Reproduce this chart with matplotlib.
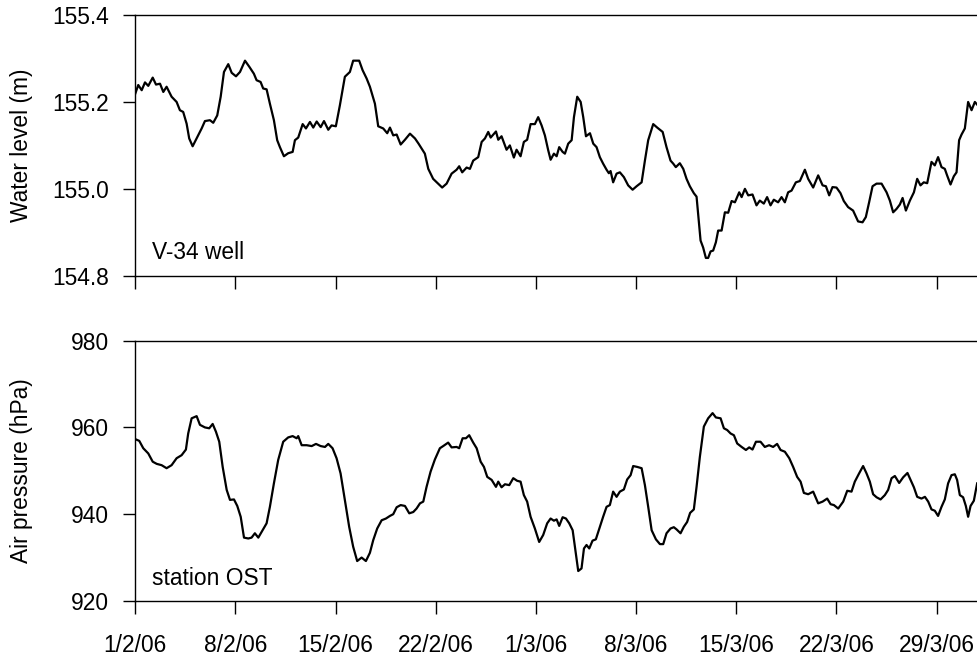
import matplotlib
matplotlib.use("Agg")
import matplotlib.pyplot as plt
import datetime as dt

plt.rcParams['font.family'] = ['Liberation Sans', 'DejaVu Sans']

# days since 1/2/06
well_day = [0.0, 0.21, 0.45, 0.68, 0.91, 1.22, 1.45, 1.73, 1.96, 2.19, 2.54, 2.89, 3.12, 3.35, 3.59, 3.77,
            4.01, 4.29, 4.64, 4.87, 5.22, 5.45, 5.73, 5.97, 6.20, 6.50, 6.74, 7.04, 7.32, 7.67, 7.97, 8.29,
            8.48, 8.76, 8.94, 9.18, 9.41, 9.69, 9.92, 10.11, 10.39, 10.69, 11.00, 11.16, 11.39, 11.70, 11.93,
            12.21, 12.44, 12.68, 12.96, 13.19, 13.49, 13.72, 14.02, 14.30, 14.65, 15.00, 15.23, 15.65, 15.89,
            16.17, 16.40, 16.75, 16.98, 17.33, 17.61, 17.80, 18.03, 18.27, 18.55, 18.85, 19.20, 19.55, 19.80,
            20.24, 20.48, 20.82, 21.17, 21.45, 21.76, 22.11, 22.46, 22.64, 22.85, 23.16, 23.39, 23.62, 23.97,
            24.21, 24.44, 24.67, 24.84, 25.21, 25.37, 25.60, 25.95, 26.18, 26.46, 26.65, 26.93, 27.16, 27.39,
            27.63, 27.93, 28.16, 28.40, 28.63, 28.86, 29.03, 29.26, 29.45, 29.63, 29.87, 30.03, 30.26, 30.50,
            30.66, 30.89, 31.13, 31.31, 31.50, 31.78, 32.01, 32.24, 32.47, 32.70, 32.94, 33.10, 33.22, 33.40,
            33.64, 33.87, 34.15, 34.45, 34.76, 35.04, 35.39, 35.62, 35.85, 36.20, 36.48, 36.86, 37.13, 37.41,
            37.60, 37.78, 38.06, 38.30, 38.53, 38.76, 39.04, 39.23, 39.40, 39.51, 39.69, 39.88, 40.04, 40.21,
            40.39, 40.58, 40.74, 40.98, 41.21, 41.44, 41.68, 41.91, 42.21, 42.38, 42.61, 42.84, 43.14, 43.42,
            43.65, 43.93, 44.16, 44.40, 44.63, 44.93, 45.17, 45.40, 45.63, 45.87, 46.17, 46.45, 46.80, 47.03,
            47.38, 47.73, 48.04, 48.27, 48.50, 48.73, 49.01, 49.29, 49.52, 49.82, 50.17, 50.52, 50.83, 51.06,
            51.29, 51.53, 51.81, 52.16, 52.51, 52.74, 52.97, 53.21, 53.44, 53.63, 53.86, 54.14, 54.42, 54.65,
            54.88, 55.11, 55.35, 55.65, 55.88, 56.11, 56.35, 56.58, 56.74, 56.98, 57.21, 57.40, 57.58, 57.75,
            57.98, 58.21, 58.45, 58.68, 58.89]
well_level = [155.219, 155.239, 155.227, 155.245, 155.237, 155.256, 155.240, 155.242, 155.223, 155.235,
              155.212, 155.200, 155.181, 155.177, 155.150, 155.116, 155.098, 155.116, 155.139, 155.156,
              155.158, 155.152, 155.169, 155.212, 155.269, 155.287, 155.267, 155.259, 155.269, 155.295,
              155.281, 155.265, 155.250, 155.246, 155.231, 155.229, 155.196, 155.158, 155.112, 155.096,
              155.075, 155.082, 155.085, 155.112, 155.118, 155.149, 155.139, 155.154, 155.141, 155.155,
              155.142, 155.156, 155.136, 155.146, 155.144, 155.192, 155.258, 155.269, 155.295, 155.295,
              155.273, 155.254, 155.235, 155.196, 155.144, 155.139, 155.128, 155.141, 155.123, 155.125,
              155.102, 155.113, 155.127, 155.116, 155.104, 155.081, 155.046, 155.023, 155.012, 155.003,
              155.012, 155.035, 155.044, 155.052, 155.038, 155.049, 155.046, 155.065, 155.073, 155.108,
              155.116, 155.131, 155.118, 155.132, 155.113, 155.121, 155.090, 155.100, 155.072, 155.090,
              155.075, 155.108, 155.113, 155.149, 155.149, 155.165, 155.146, 155.123, 155.089, 155.067,
              155.081, 155.075, 155.096, 155.085, 155.081, 155.104, 155.112, 155.165, 155.212, 155.200,
              155.165, 155.121, 155.128, 155.104, 155.096, 155.073, 155.058, 155.044, 155.036, 155.041,
              155.015, 155.035, 155.038, 155.027, 155.008, 154.998, 155.006, 155.015, 155.065, 155.112,
              155.149, 155.141, 155.131, 155.096, 155.065, 155.058, 155.050, 155.059, 155.046, 155.023,
              155.006, 154.990, 154.982, 154.919, 154.881, 154.865, 154.841, 154.841, 154.856, 154.858,
              154.877, 154.904, 154.904, 154.946, 154.945, 154.972, 154.969, 154.992, 154.981, 155.000,
              154.985, 154.987, 154.962, 154.973, 154.966, 154.981, 154.962, 154.975, 154.969, 154.981,
              154.969, 154.992, 154.996, 155.015, 155.018, 155.044, 155.023, 155.003, 155.031, 155.008,
              155.006, 154.985, 155.004, 155.003, 154.990, 154.972, 154.958, 154.950, 154.925, 154.923,
              154.935, 154.969, 155.006, 155.012, 155.012, 154.992, 154.973, 154.946, 154.954, 154.964,
              154.979, 154.950, 154.973, 154.992, 155.023, 155.008, 155.015, 155.013, 155.062, 155.054,
              155.073, 155.050, 155.046, 155.031, 155.010, 155.029, 155.038, 155.112, 155.125, 155.139,
              155.200, 155.181, 155.200, 155.192]

air_day = [0.0, 0.28, 0.56, 0.91, 1.22, 1.50, 1.84, 2.19, 2.54, 2.89, 3.24, 3.54, 3.70, 3.94, 4.29, 4.52,
           4.87, 5.17, 5.41, 5.64, 5.87, 6.11, 6.39, 6.62, 6.90, 7.13, 7.37, 7.60, 7.90, 8.13, 8.36, 8.60,
           8.90, 9.18, 9.41, 9.69, 9.99, 10.34, 10.69, 11.00, 11.28, 11.39, 11.63, 11.98, 12.33, 12.63,
           12.96, 13.26, 13.49, 13.79, 14.07, 14.35, 14.65, 14.95, 15.23, 15.51, 15.82, 16.12, 16.40, 16.63,
           16.91, 17.22, 17.52, 17.80, 18.03, 18.27, 18.55, 18.85, 19.15, 19.43, 19.66, 19.90, 20.13, 20.36,
           20.64, 20.94, 21.29, 21.52, 21.87, 22.11, 22.46, 22.64, 22.88, 23.11, 23.34, 23.62, 23.86, 24.14,
           24.37, 24.60, 24.91, 25.21, 25.37, 25.60, 25.84, 26.14, 26.42, 26.69, 26.93, 27.16, 27.39, 27.63,
           27.93, 28.23, 28.51, 28.79, 29.03, 29.26, 29.45, 29.63, 29.87, 30.10, 30.33, 30.57, 30.73, 30.96,
           31.19, 31.36, 31.54, 31.73, 31.96, 32.19, 32.47, 32.70, 32.94, 33.17, 33.40, 33.64, 33.87, 34.15,
           34.38, 34.62, 34.80, 35.08, 35.39, 35.62, 35.85, 36.09, 36.39, 36.67, 36.90, 37.13, 37.41, 37.64,
           37.83, 38.11, 38.34, 38.57, 38.78, 39.04, 39.23, 39.46, 39.74, 40.04, 40.35, 40.58, 40.91, 41.14,
           41.37, 41.61, 41.84, 42.07, 42.38, 42.68, 42.91, 43.14, 43.38, 43.70, 44.00, 44.30, 44.58, 44.86,
           45.10, 45.40, 45.71, 45.98, 46.26, 46.50, 46.73, 47.03, 47.38, 47.73, 48.04, 48.36, 48.60, 48.83,
           49.13, 49.48, 49.76, 50.06, 50.29, 50.59, 50.87, 51.11, 51.34, 51.57, 51.81, 52.09, 52.39, 52.62,
           52.86, 53.09, 53.39, 53.67, 53.97, 54.19, 54.42, 54.65, 54.95, 55.19, 55.42, 55.65, 55.88, 56.11,
           56.35, 56.58, 56.81, 57.05, 57.28, 57.44, 57.63, 57.86, 58.05, 58.21, 58.38, 58.61, 58.84]
air_hpa = [957.3, 956.9, 955.2, 954.0, 952.1, 951.6, 951.3, 950.6, 951.3, 952.9, 953.6, 954.9, 958.6, 962.1,
           962.6, 960.6, 960.0, 959.8, 960.8, 959.0, 956.7, 950.9, 945.6, 943.3, 943.4, 941.9, 939.4, 934.6,
           934.4, 934.6, 935.6, 934.6, 936.3, 937.9, 941.7, 947.1, 952.5, 956.7, 957.7, 958.0, 957.5, 958.0,
           955.9, 955.9, 955.7, 956.2, 955.7, 955.5, 956.2, 955.2, 952.9, 949.4, 943.3, 937.1, 932.5, 929.2,
           930.0, 929.2, 931.1, 934.0, 936.7, 938.6, 939.0, 939.6, 940.0, 941.6, 942.1, 941.9, 940.2, 940.5,
           941.3, 942.5, 942.9, 946.3, 949.8, 952.6, 955.2, 955.7, 956.5, 955.4, 955.5, 955.2, 957.5, 957.5,
           958.2, 956.5, 955.2, 952.1, 950.9, 948.6, 947.9, 946.3, 947.5, 946.2, 946.9, 946.7, 948.3, 947.7,
           947.5, 944.4, 942.9, 939.4, 936.7, 933.6, 935.2, 937.9, 939.0, 938.5, 938.8, 937.3, 939.3, 939.0,
           937.9, 936.3, 932.5, 926.9, 927.5, 932.1, 932.9, 932.1, 933.9, 934.2, 937.1, 939.4, 941.7, 942.1,
           945.2, 944.0, 945.2, 945.7, 948.0, 949.0, 951.1, 950.9, 950.6, 946.7, 941.7, 936.3, 934.2, 933.1,
           933.1, 935.6, 936.7, 937.0, 936.5, 935.6, 937.1, 938.2, 940.3, 941.1, 946.3, 953.2, 960.2, 962.1,
           963.3, 962.3, 962.1, 959.8, 959.4, 958.6, 958.2, 956.3, 955.5, 954.8, 955.4, 954.9, 956.7, 956.7,
           955.5, 955.9, 955.5, 956.2, 954.8, 954.4, 952.9, 950.9, 948.6, 947.5, 944.9, 944.6, 945.2, 942.5,
           942.9, 943.6, 942.3, 942.1, 941.3, 942.9, 945.4, 945.2, 947.5, 949.4, 951.1, 949.4, 947.5, 944.6,
           943.9, 943.4, 944.4, 945.6, 948.3, 948.8, 947.2, 948.5, 949.5, 947.9, 946.2, 944.0, 943.6, 944.0,
           942.9, 941.1, 940.8, 939.6, 941.7, 943.4, 947.1, 949.0, 949.2, 947.9, 944.4, 943.9, 941.9, 939.4,
           941.9, 943.1, 947.1]

tick_days = [0, 7, 14, 21, 28, 35, 42, 49, 56]
start = dt.date(2006, 2, 1)
tick_labels = []
for d in tick_days:
    t = start + dt.timedelta(days=d)
    tick_labels.append("%d/%d/%02d" % (t.day, t.month, t.year % 100))

fig = plt.figure(figsize=(9.78, 6.57), dpi=100)
ax1 = fig.add_axes([0.1383, 0.5803, 0.8617, 0.3968])
ax2 = fig.add_axes([0.1383, 0.0853, 0.8617, 0.3962])

fs = 16.4
for ax in (ax1, ax2):
    ax.spines['right'].set_visible(False)
    for s in ('left', 'top', 'bottom'):
        ax.spines[s].set_linewidth(1.0)
    ax.set_xlim(0, 58.9)
    ax.set_xticks(tick_days)
    ax.tick_params(direction='out', length=9, width=1.0, labelsize=fs, pad=15)
    ax.tick_params(axis='y', pad=10)

ax1.plot(well_day, well_level, color='black', lw=1.6)
ax1.set_ylim(154.8, 155.4)
ax1.set_yticks([154.8, 155.0, 155.2, 155.4])
ax1.set_yticklabels(["154.8", "155.0", "155.2", "155.4"])
ax1.set_xticklabels([])
ax1.set_ylabel("Water level (m)", fontsize=fs)
ax1.yaxis.set_label_coords(-0.121, 0.5)
ax1.text(0.02, 0.064, "V-34 well", transform=ax1.transAxes, fontsize=fs, va='baseline')

ax2.plot(air_day, air_hpa, color='black', lw=1.6)
ax2.set_ylim(920, 980)
ax2.set_yticks([920, 940, 960, 980])
ax2.set_xticklabels(tick_labels)
ax2.set_ylabel("Air pressure (hPa)", fontsize=fs)
ax2.yaxis.set_label_coords(-0.121, 0.5)
ax2.text(0.02, 0.061, "station OST", transform=ax2.transAxes, fontsize=fs, va='baseline')

fig.savefig("out.png", dpi=100)
